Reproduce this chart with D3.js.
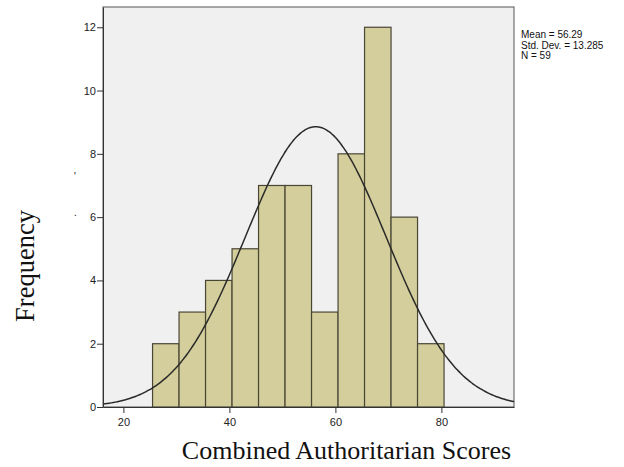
<!DOCTYPE html>
<html>
<head>
<meta charset="utf-8">
<script src="https://cdn.jsdelivr.net/npm/d3@7"></script>
<style>
  body { margin: 0; background: #fff; }
</style>
</head>
<body>
<svg id="canvas"></svg>
<script>
const width = 624;
const height = 467;

// histogram bins (lower edge, width 5) and counts
const binStarts = [25.5, 30.5, 35.5, 40.5, 45.5, 50.5, 55.5, 60.5, 65.5, 70.5, 75.5];
const counts = [2, 3, 4, 5, 7, 7, 3, 8, 12, 6, 2];
const binWidth = 5;
const xTicks = [20, 40, 60, 80];
const yTicks = [0, 2, 4, 6, 8, 10, 12];
const mean = 56.29, sd = 13.285, n = 59;
const statLines = ["Mean = 56.29", "Std. Dev. = 13.285", "N = 59"];

const sans = "Arial, 'Liberation Sans', sans-serif";
const serif = "'Liberation Serif', 'Times New Roman', serif";

const svg = d3.select("#canvas")
  .attr("width", width)
  .attr("height", height);

const plot = { left: 103, right: 514, top: 7, bottom: 407 };

const x = d3.scaleLinear()
  .domain([16.15, 93.7])
  .range([plot.left, plot.right]);

const y = d3.scaleLinear()
  .domain([0, 12.64])
  .range([plot.bottom, plot.top]);

// plot background
svg.append("rect")
  .attr("x", plot.left)
  .attr("y", plot.top)
  .attr("width", plot.right - plot.left)
  .attr("height", plot.bottom - plot.top)
  .attr("fill", "#f0f0f0")
  .attr("stroke", "#555")
  .attr("stroke-width", 1);

// bars
svg.selectAll("rect.bar")
  .data(counts)
  .enter()
  .append("rect")
  .attr("class", "bar")
  .attr("x", (d, i) => x(binStarts[i]))
  .attr("y", d => y(d))
  .attr("width", (d, i) => x(binStarts[i] + binWidth) - x(binStarts[i]))
  .attr("height", d => y(0) - y(d))
  .attr("fill", "#d3ce9b")
  .attr("stroke", "#4a4636")
  .attr("stroke-width", 1.2);

// normal curve
const pdf = v => n * binWidth / (sd * Math.sqrt(2 * Math.PI)) *
  Math.exp(-0.5 * ((v - mean) / sd) ** 2);
const curvePts = d3.range(0, 201).map(k => {
  const v = x.domain()[0] + (x.domain()[1] - x.domain()[0]) * k / 200;
  return [x(v), y(pdf(v))];
});
svg.append("path")
  .attr("d", d3.line().curve(d3.curveBasis)(curvePts))
  .attr("fill", "none")
  .attr("stroke", "#2a2a2a")
  .attr("stroke-width", 1.5);

// axes
svg.append("g")
  .attr("transform", `translate(0,${plot.bottom})`)
  .call(d3.axisBottom(x).tickValues(xTicks).tickSize(6).tickSizeOuter(0))
  .call(g => g.select(".domain").attr("stroke", "#333"))
  .call(g => g.selectAll(".tick line").attr("stroke", "#333"))
  .call(g => g.selectAll(".tick text").style("font-size", "11px").attr("fill", "#222")
    .style("font-family", sans).attr("dy", "0.9em"));

svg.append("g")
  .attr("transform", `translate(${plot.left},0)`)
  .call(d3.axisLeft(y).tickValues(yTicks).tickSize(6).tickSizeOuter(0))
  .call(g => g.select(".domain").attr("stroke", "#333"))
  .call(g => g.selectAll(".tick line").attr("stroke", "#333"))
  .call(g => g.selectAll(".tick text").style("font-size", "11px").attr("fill", "#222")
    .style("font-family", sans).attr("x", -7));

// stats
svg.append("g")
  .selectAll("text")
  .data(statLines)
  .enter()
  .append("text")
  .attr("x", 521)
  .attr("y", (d, i) => 38 + i * 10.5)
  .style("font-family", sans)
  .style("font-size", "10px")
  .attr("fill", "#111")
  .text(d => d);

// axis titles
svg.append("text")
  .attr("x", 346.5)
  .attr("y", 459)
  .attr("text-anchor", "middle")
  .style("font-family", serif)
  .style("font-size", "26px")
  .attr("fill", "#111")
  .text("Combined Authoritarian Scores");

svg.append("text")
  .attr("transform", "translate(34,266) rotate(-90)")
  .attr("text-anchor", "middle")
  .style("font-family", serif)
  .style("font-size", "26.5px")
  .attr("fill", "#111")
  .text("Frequency");

// stray marks left of the axis
svg.append("text").attr("x", 74).attr("y", 180)
  .style("font-family", sans).style("font-size", "10px").attr("fill", "#111").text("'");
svg.append("text").attr("x", 74).attr("y", 216)
  .style("font-family", sans).style("font-size", "10px").attr("fill", "#111").text(".");
</script>
</body>
</html>
